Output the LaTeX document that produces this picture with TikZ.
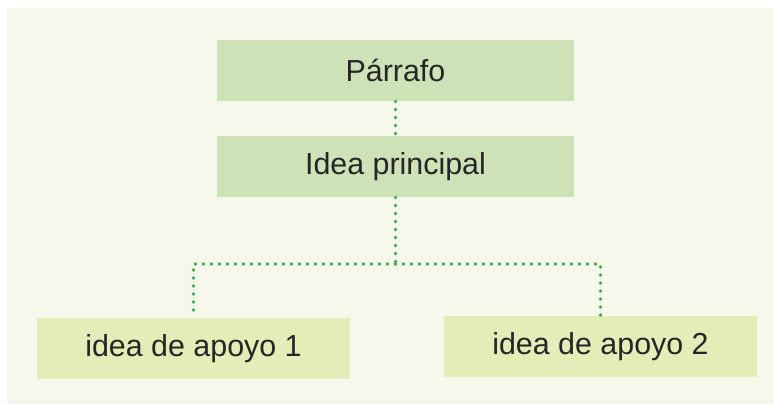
\documentclass[tikz,border=0pt]{standalone}
\usepackage{fontspec}
\setmainfont{Liberation Sans}
\usepackage{xcolor}
\usepackage{tikz}
\definecolor{bgcream}{HTML}{F5F8EB}
\definecolor{topgreen}{HTML}{CDE3B7}
\definecolor{lowgreen}{HTML}{E3EDB7}
\definecolor{dotgreen}{HTML}{3DAE49}
\definecolor{txtgray}{HTML}{262626}

\begin{document}
\begin{tikzpicture}
  [
    x=0.5pt, y=-0.5pt,
    topbox/.style={fill=topgreen, minimum width=178.5pt,
    minimum height=30.5pt, inner sep=0pt, text=txtgray,
    font=\fontsize{15.2}{18}\selectfont},
    lowbox/.style={topbox, fill=lowgreen, minimum width=156.5pt},
    dl/.style={draw=dotgreen, line width=1.9pt, line cap=round,
    dash pattern=on 0pt off 4pt}
  ]
  \fill [white]    (0,0) rectangle (774,404);
  \fill [bgcream]  (7,8) rectangle (774,404);

  \node (parrafo)   at (395.5, 70.5) [topbox] {Párrafo};
  \node (principal) at (395.5,166.5) [topbox] {Idea principal};
  \node (apoyo1)    at (193.5,348.5) [lowbox] {idea de apoyo 1};
  \node (apoyo2)    at (600.5,346.5) [lowbox] {idea de apoyo 2};

  \coordinate (split) at (395.5,264);

  \draw [dl] (parrafo.south) -- (principal.north);
  \draw [dl] (principal.south) -- (split);
  \draw [dl] (split) -| (apoyo1.north);
  \draw [dl] (split) -| (apoyo2.north);
\end{tikzpicture}
\end{document}
